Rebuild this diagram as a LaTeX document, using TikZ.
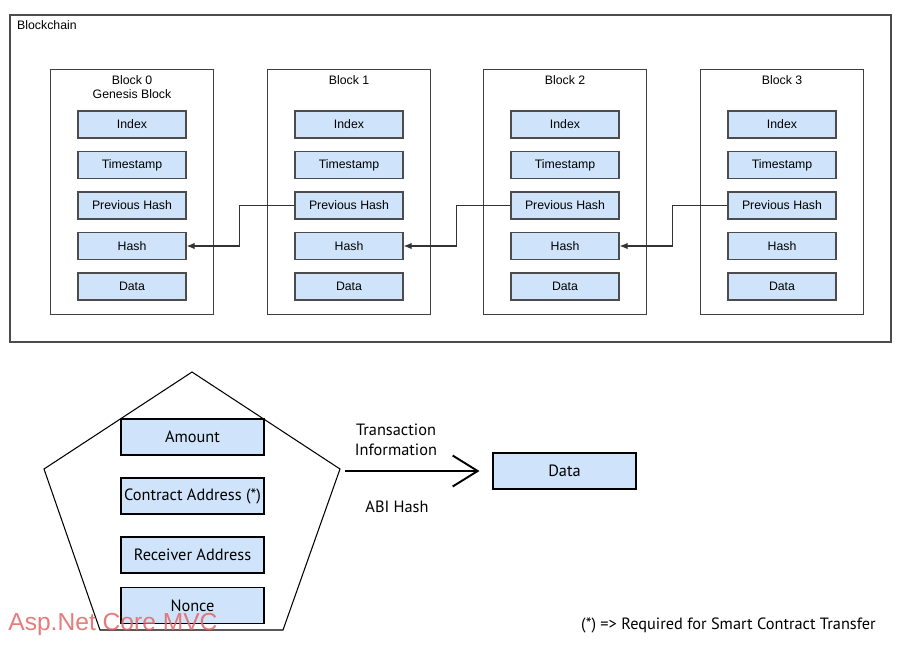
\documentclass[tikz,border=0pt]{standalone}
\usepackage{fontspec}
\setmainfont{PT Sans}
\newfontfamily\chainfont{Liberation Sans}
\usetikzlibrary{arrows.meta}

\definecolor{fieldblue}{RGB}{207,228,250}
\definecolor{markred}{RGB}{228,100,100}

\tikzset{
  frame/.style={draw=black!70, line width=0.7pt},
  blockbox/.style={draw=black!75, line width=0.9pt, minimum width=3.26cm, minimum height=4.9cm, inner sep=0pt},
  field/.style={draw=black!70, line width=0.8pt, fill=fieldblue, minimum width=2.16cm, minimum height=0.54cm, inner sep=0pt, font=\chainfont\fontsize{7}{8}\selectfont},
  small/.style={font=\chainfont\fontsize{7}{7.9}\selectfont},
  txfield/.style={draw=black, line width=0.6pt, fill=fieldblue, minimum width=2.86cm, minimum height=0.72cm, inner sep=0pt, font=\fontsize{9.3}{11}\selectfont},
  txtext/.style={font=\fontsize{9.3}{11.3}\selectfont},
  link/.style={draw=black!80, line width=0.6pt, -{Latex[length=1.6mm, width=1.3mm]}},
}

\begin{document}
\begin{tikzpicture}[x=0.02cm, y=-0.02cm]
  \useasboundingbox (0,0) rectangle (899,654);

  % Blockchain frame
  \draw[frame] (10,15) rectangle (891,342);
  \node[small, anchor=west] (chain-label) at (11,25) {Blockchain};

  % Block 0
  \node[blockbox] (b0) at (132,192) {};
  \node[small, align=center] (b0-title) at (132,87) {Block 0\\Genesis Block};
  \node[field] (b0-index) at (132,124.5) {Index};
  \node[field] (b0-time)  at (132,165)   {Timestamp};
  \node[field] (b0-prev)  at (132,205.5) {Previous Hash};
  \node[field] (b0-hash)  at (132,246)   {Hash};
  \node[field] (b0-data)  at (132,286.5) {Data};

  % Block 1
  \node[blockbox] (b1) at (349,192) {};
  \node[small] (b1-title) at (349,80) {Block 1};
  \node[field] (b1-index) at (349,124.5) {Index};
  \node[field] (b1-time)  at (349,165)   {Timestamp};
  \node[field] (b1-prev)  at (349,205.5) {Previous Hash};
  \node[field] (b1-hash)  at (349,246)   {Hash};
  \node[field] (b1-data)  at (349,286.5) {Data};

  % Block 2
  \node[blockbox] (b2) at (565,192) {};
  \node[small] (b2-title) at (565,80) {Block 2};
  \node[field] (b2-index) at (565,124.5) {Index};
  \node[field] (b2-time)  at (565,165)   {Timestamp};
  \node[field] (b2-prev)  at (565,205.5) {Previous Hash};
  \node[field] (b2-hash)  at (565,246)   {Hash};
  \node[field] (b2-data)  at (565,286.5) {Data};

  % Block 3
  \node[blockbox] (b3) at (782,192) {};
  \node[small] (b3-title) at (782,80) {Block 3};
  \node[field] (b3-index) at (782,124.5) {Index};
  \node[field] (b3-time)  at (782,165)   {Timestamp};
  \node[field] (b3-prev)  at (782,205.5) {Previous Hash};
  \node[field] (b3-hash)  at (782,246)   {Hash};
  \node[field] (b3-data)  at (782,286.5) {Data};

  % Previous hash -> hash of the block before
  \draw[link] (b1-prev.west) -- ++(-55,0) |- (b0-hash.east);
  \draw[link] (b2-prev.west) -- ++(-54,0) |- (b1-hash.east);
  \draw[link] (b3-prev.west) -- ++(-55,0) |- (b2-hash.east);

  % Transaction pentagon
  \coordinate (pent-top)   at (192,372);
  \coordinate (pent-right) at (340,469);
  \coordinate (pent-br)    at (283,630);
  \coordinate (pent-bl)    at (100,630);
  \coordinate (pent-left)  at (44,469);
  \draw[line width=0.6pt] (pent-top) -- (pent-right) -- (pent-br) -- (pent-bl) -- (pent-left) -- cycle;

  \node[txfield] (amount)   at (192.5,437)   {Amount};
  \node[txfield] (contract) at (192.5,496)   {Contract Address (*)};
  \node[txfield] (receiver) at (192.5,555)   {Receiver Address};
  \node[txfield] (nonce)    at (192.5,605.5) {Nonce};

  % Transaction -> Data
  \node[txfield] (data) at (564.5,471) {Data};
  \coordinate (tx-out) at (345,471);
  \draw[line width=1.1pt, -{Straight Barb[length=0.5cm, width=0.62cm]}, shorten >=0.26cm] (tx-out) -- (data.west);
  \node[txtext, align=center] (tx-info) at (396,440) {Transaction\\Information};
  \node[txtext] (abi) at (397,507) {ABI Hash};

  % Footnote
  \node[txtext, anchor=west] (note) at (575,625) {(*) => Required for Smart Contract Transfer};

  % Watermark
  \node[font=\chainfont\fontsize{14}{16}\selectfont, text=markred, opacity=0.85, anchor=base west, inner sep=0pt] (mark) at (8,630) {Asp.Net Core MVC};
\end{tikzpicture}
\end{document}
